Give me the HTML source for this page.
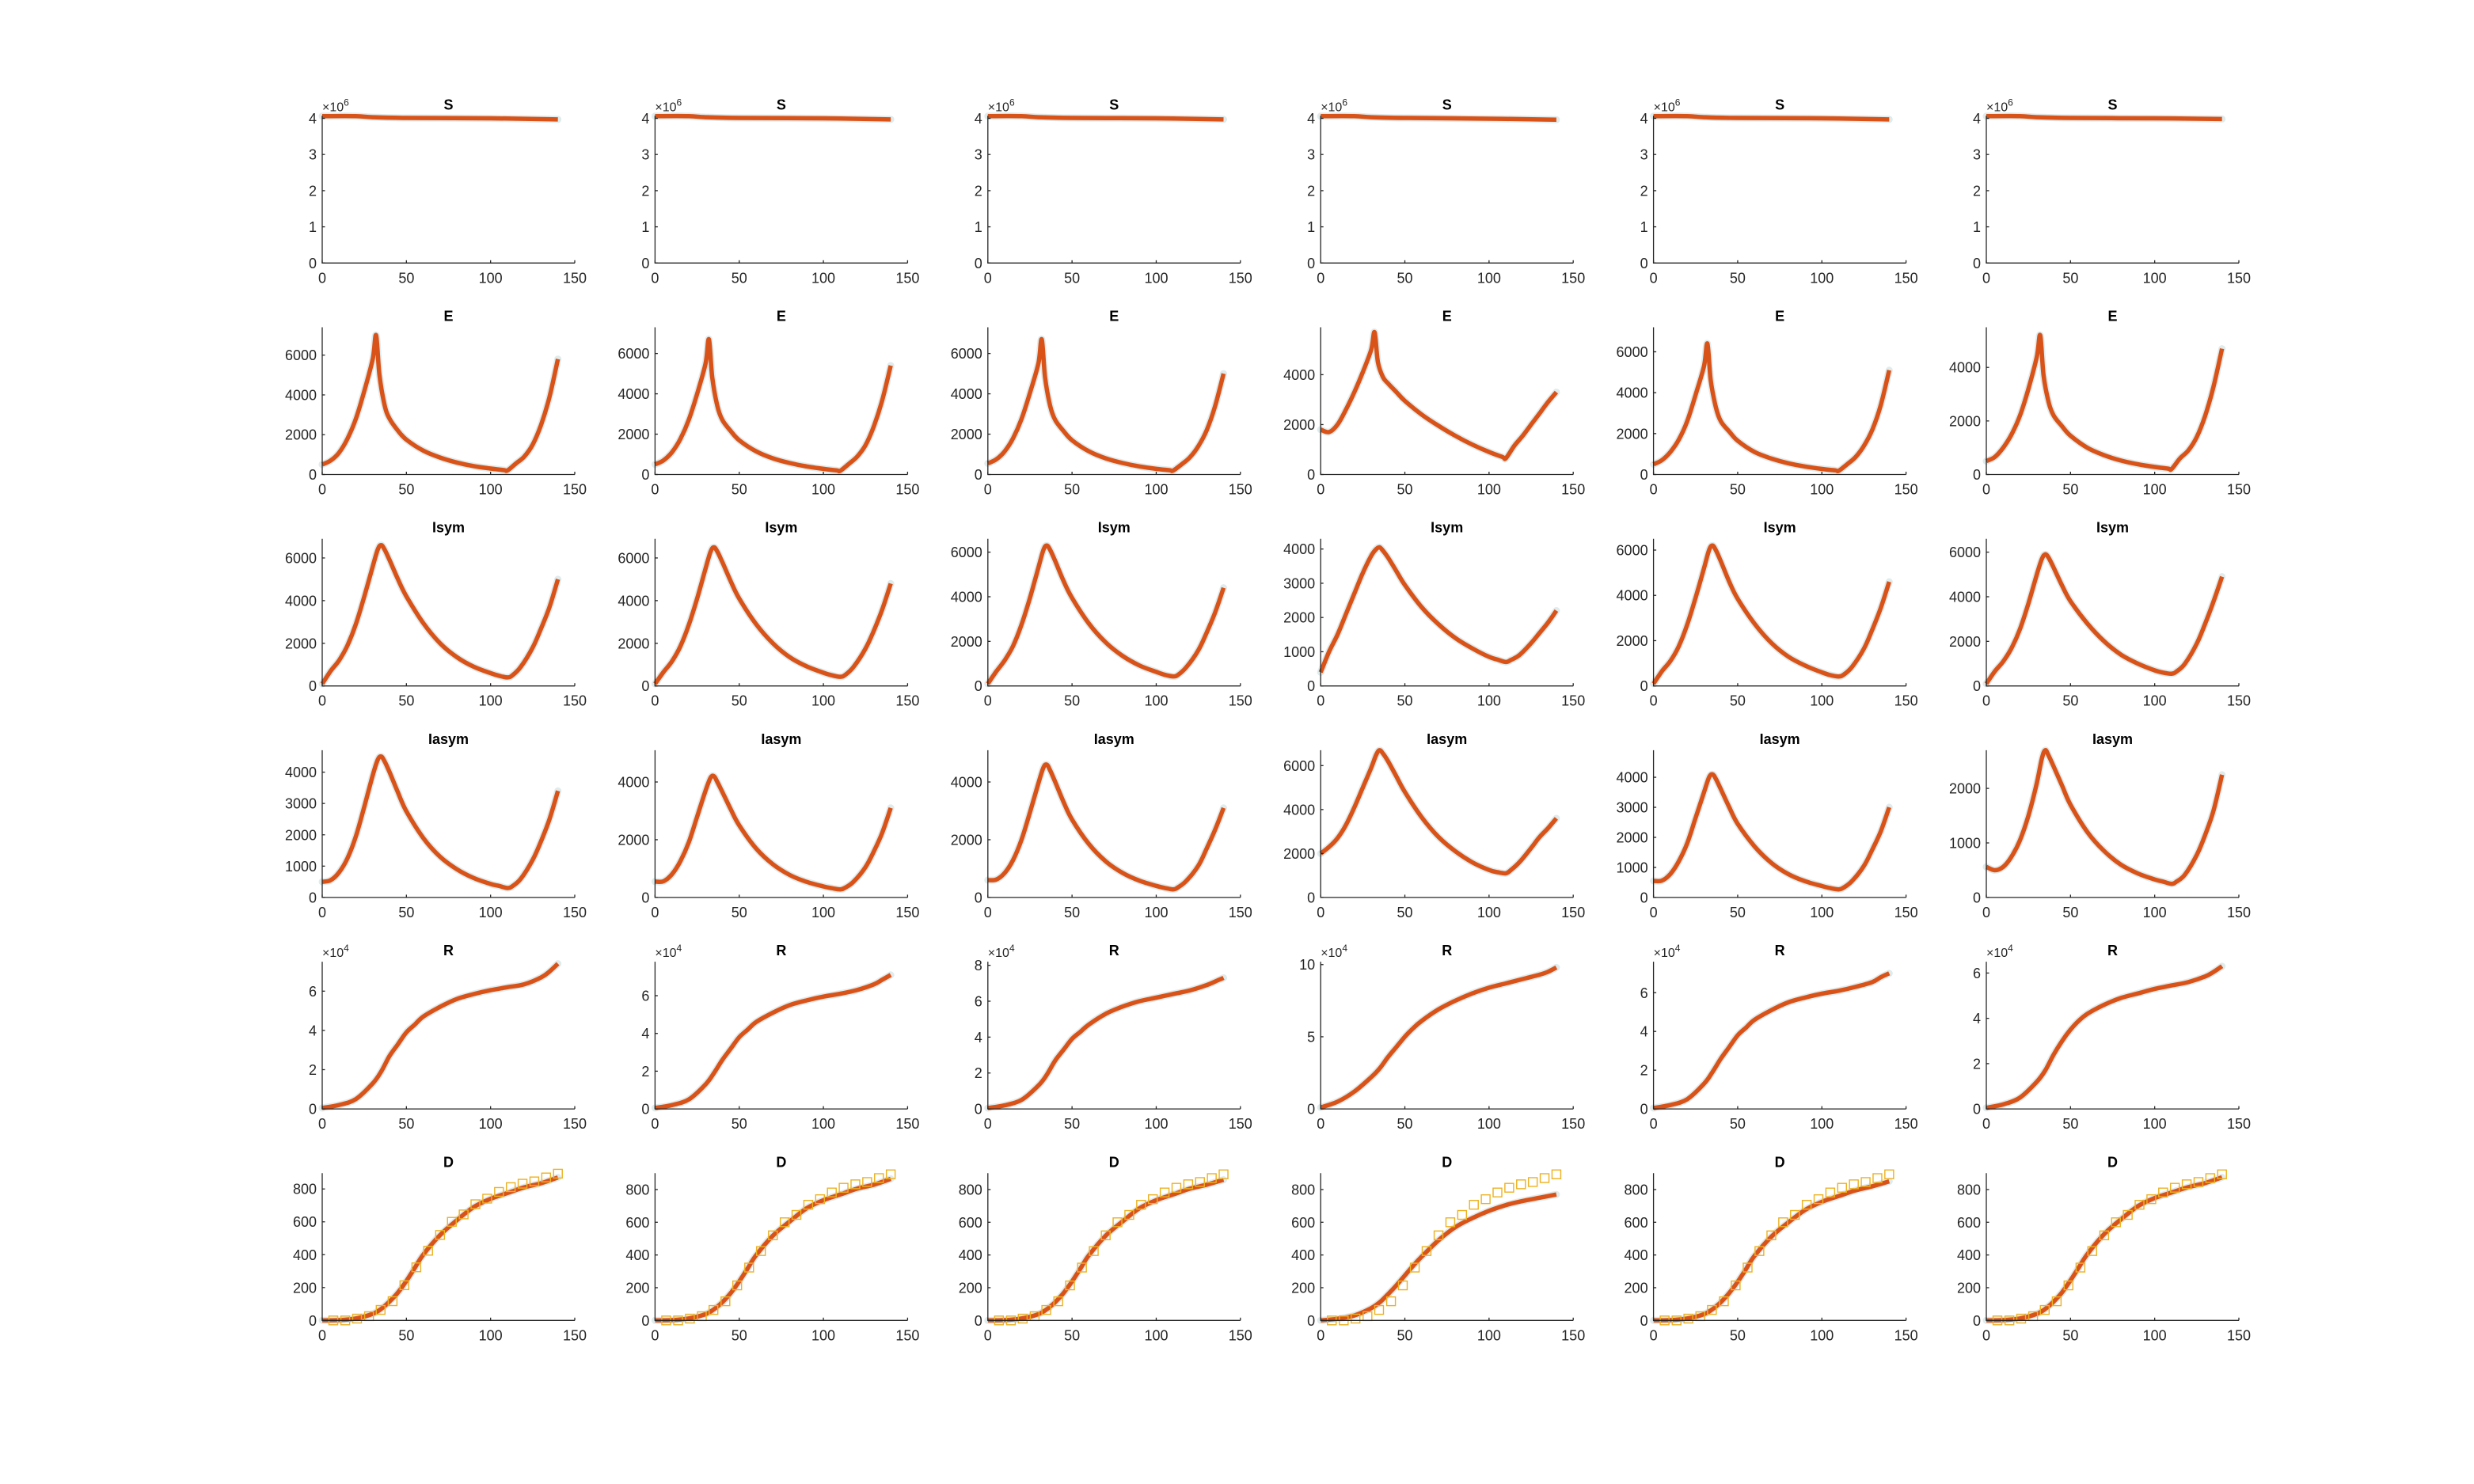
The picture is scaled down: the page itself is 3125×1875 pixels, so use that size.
<!DOCTYPE html>
<html><head><meta charset="utf-8">
<style>
html,body{margin:0;padding:0;background:#fff;}
svg{display:block;font-family:"Liberation Sans",sans-serif;}
</style></head>
<body>
<svg id="fig" width="3125" height="1875" viewBox="0 0 3125 1875" xmlns="http://www.w3.org/2000/svg"></svg>
<script>
// ---- data ----
const rowTitles = ["S","E","Isym","Iasym","R","D"];
const rowExponent = ["6","","","","4",""];
const tS = [0,20,30,50,100,140];
const tE = [0,5,10,15,20,25,30,32,34,37,40,45,50,60,70,80,90,100,108,110,115,120,125,130,135,140];
const tI = [0,5,10,15,20,25,30,33,35,37,40,45,50,60,70,80,90,100,105,110,113,118,125,130,135,140];
const tR = [0,10,20,30,35,40,45,50,55,60,70,80,90,100,110,120,130,135,140];
const tD = [0,10,20,30,35,40,45,50,55,60,70,80,90,100,110,120,130,140];
const tObs = [6.6,13.7,20.7,27.8,34.7,41.8,48.8,55.9,62.9,70,77,84,91,98,105,112,119,126,133,140];
const dObs = [0,0,11,26,64,117,214,323,424,520,600,645,707,741,782,811,832,846,870,893];

const S1=[4.06,4.06,4.03,4.01,4.0,3.97];
const S2=[4.06,4.06,4.03,4.01,4.0,3.97];
const S3=[4.06,4.06,4.03,4.01,4.0,3.97];
const S4=[4.06,4.06,4.03,4.01,3.99,3.96];
const S5=[4.06,4.06,4.03,4.01,4.0,3.97];
const S6=[4.06,4.06,4.03,4.01,4.0,3.98];

const E1=[500,700,1100,1800,2800,4200,5800,7000,5000,3500,2800,2200,1750,1200,850,600,420,300,220,200,550,900,1500,2500,3900,5800];
const E2=[500,700,1100,1750,2700,4000,5500,6700,4800,3400,2700,2150,1700,1150,800,570,400,280,200,180,520,880,1450,2400,3700,5400];
const E3=[550,750,1150,1800,2750,4050,5500,6700,4800,3400,2700,2150,1700,1150,800,570,400,280,210,190,500,850,1400,2200,3400,5000];
const E4=[1800,1700,2000,2600,3300,4100,5000,5700,4500,3900,3650,3300,2950,2400,1950,1550,1200,900,700,650,1150,1550,2000,2450,2900,3300];
const E5=[500,700,1100,1700,2600,3900,5300,6400,4600,3300,2600,2100,1650,1100,780,550,390,270,200,180,500,850,1400,2200,3400,5100];
const E6=[500,650,1000,1500,2200,3200,4400,5200,3700,2700,2200,1800,1450,1000,720,520,380,280,220,200,600,900,1400,2200,3300,4700];

const I1=[100,700,1200,1900,2900,4200,5600,6400,6600,6400,5900,5000,4200,2950,2000,1350,900,600,480,400,500,900,1800,2700,3700,5000];
const I2=[100,650,1150,1850,2850,4100,5500,6300,6500,6300,5800,4900,4100,2900,2000,1350,920,620,500,430,520,900,1750,2600,3600,4800];
const I3=[100,650,1150,1800,2750,3950,5300,6100,6300,6100,5600,4700,3950,2800,1950,1350,920,630,500,430,500,850,1600,2400,3300,4400];
const I4=[400,1000,1500,2100,2700,3300,3800,4000,4050,3950,3750,3350,2950,2300,1800,1400,1100,850,770,700,760,900,1250,1550,1850,2200];
const I5=[100,650,1100,1750,2700,3900,5200,6000,6200,6000,5500,4600,3850,2750,1900,1300,900,600,480,420,500,850,1650,2500,3450,4600];
const I6=[100,650,1100,1700,2550,3700,5000,5700,5900,5750,5300,4500,3800,2800,2000,1400,1000,700,600,550,650,1000,1900,2800,3800,4900];

const A1=[500,550,800,1250,1950,2900,3900,4400,4500,4350,4000,3350,2750,1900,1300,900,620,430,370,300,360,600,1200,1800,2500,3400];
const A2=[550,560,800,1250,1900,2800,3700,4150,4200,4000,3650,3050,2500,1700,1150,780,540,380,320,280,340,550,1050,1600,2250,3100];
const A3=[600,620,850,1300,2000,2950,3950,4500,4600,4400,4000,3300,2700,1850,1250,850,580,400,330,280,350,580,1100,1700,2350,3100];
const A4=[2000,2300,2700,3300,4100,5000,5900,6500,6700,6550,6200,5500,4800,3650,2750,2100,1600,1250,1150,1100,1250,1600,2250,2750,3150,3600];
const A5=[550,560,780,1200,1800,2650,3500,4000,4100,3950,3600,3000,2450,1700,1150,780,540,380,310,270,330,550,1050,1600,2200,3000];
const A6=[560,500,560,750,1050,1500,2100,2550,2700,2600,2400,2050,1700,1200,850,600,440,330,290,250,290,420,780,1150,1600,2250];

const R1=[0.05,0.2,0.5,1.3,1.9,2.7,3.3,3.9,4.3,4.7,5.2,5.6,5.85,6.05,6.2,6.35,6.7,7.0,7.4];
const R2=[0.05,0.2,0.5,1.3,1.9,2.6,3.2,3.8,4.2,4.6,5.1,5.5,5.75,5.95,6.1,6.3,6.6,6.85,7.1];
const R3=[0.05,0.2,0.5,1.3,1.9,2.7,3.3,3.9,4.3,4.7,5.3,5.7,6.0,6.2,6.4,6.6,6.9,7.1,7.3];
const R4=[0.1,0.5,1.2,2.2,2.8,3.6,4.3,5.0,5.6,6.1,6.9,7.5,8.0,8.4,8.7,9.0,9.3,9.5,9.8];
const R5=[0.05,0.2,0.5,1.3,1.9,2.6,3.2,3.8,4.2,4.6,5.1,5.5,5.75,5.95,6.1,6.3,6.55,6.8,7.0];
const R6=[0.05,0.2,0.5,1.2,1.7,2.4,3.0,3.5,3.9,4.2,4.6,4.9,5.1,5.3,5.45,5.6,5.85,6.05,6.3];

const D1=[0,2,12,40,70,115,170,240,320,400,520,610,690,740,775,810,835,870];
const D2=[0,2,12,38,68,112,168,238,318,398,518,605,685,735,770,805,830,865];
const D3=[0,2,12,38,68,112,168,238,318,398,518,605,685,735,770,805,830,860];
const D4=[0,10,30,75,110,160,215,275,335,390,490,570,625,670,705,730,750,770];
const D5=[0,2,12,38,68,112,168,236,315,395,512,598,675,725,760,795,820,850];
const D6=[0,2,12,40,70,115,172,245,325,405,528,618,698,748,782,815,840,875];

const ymaxS=[4.07,4.07,4.07,4.07,4.07,4.07];
const ymaxE=[7400,7300,7300,5900,7200,5500];
const ymaxI=[6900,6900,6600,4300,6500,6600];
const ymaxA=[4700,5100,5100,6700,4900,2700];
const ymaxR=[7.5,7.8,8.2,10.2,7.6,6.5];
const ymaxD=[896,900,900,900,900,900];

const stepS=[1,1,1,1,1,1];
const stepE=[2000,2000,2000,2000,2000,2000];
const stepI=[2000,2000,2000,1000,2000,2000];
const stepA=[1000,2000,2000,2000,1000,1000];
const stepR=[2,2,2,5,2,2];
const stepD=[200,200,200,200,200,200];

const xTicks=[0,50,100,150];

const rows=[
 {t:tS,series:[S1,S2,S3,S4,S5,S6],ymax:ymaxS,step:stepS},
 {t:tE,series:[E1,E2,E3,E4,E5,E6],ymax:ymaxE,step:stepE},
 {t:tI,series:[I1,I2,I3,I4,I5,I6],ymax:ymaxI,step:stepI},
 {t:tI,series:[A1,A2,A3,A4,A5,A6],ymax:ymaxA,step:stepA},
 {t:tR,series:[R1,R2,R3,R4,R5,R6],ymax:ymaxR,step:stepR},
 {t:tD,series:[D1,D2,D3,D4,D5,D6],ymax:ymaxD,step:stepD}
];

// ---- layout ----
const NS="http://www.w3.org/2000/svg";
const svg=document.getElementById('fig');
const X0=407, COLP=420.4, AW=319, YB0=332.3, ROWP=267.2, AH=186;
function mk(tag,attrs,parent){const e=document.createElementNS(NS,tag);for(const k in attrs)e.setAttribute(k,attrs[k]);(parent||svg).appendChild(e);return e;}
function smoothPath(pts){
  let d="M"+pts[0][0].toFixed(1)+","+pts[0][1].toFixed(1);
  for(let i=0;i<pts.length-1;i++){
    const p0=pts[Math.max(0,i-1)],p1=pts[i],p2=pts[i+1],p3=pts[Math.min(pts.length-1,i+2)];
    const c1=[p1[0]+(p2[0]-p0[0])/6,p1[1]+(p2[1]-p0[1])/6];
    const c2=[p2[0]-(p3[0]-p1[0])/6,p2[1]-(p3[1]-p1[1])/6];
    d+=" C"+c1[0].toFixed(1)+","+c1[1].toFixed(1)+" "+c2[0].toFixed(1)+","+c2[1].toFixed(1)+" "+p2[0].toFixed(1)+","+p2[1].toFixed(1);
  }
  return d;
}
rows.forEach((row,r)=>{
  for(let c=0;c<6;c++){
    const x0=X0+c*COLP, yb=YB0+r*ROWP, yt=yb-AH;
    const ymax=row.ymax[c], step=row.step[c];
    const xs=v=>x0+v/150*AW;
    const ys=v=>yb-v/ymax*AH;
    const g=mk('g',{});
    
    
    const ti=mk('text',{x:x0+AW*0.5,y:yt-8,'text-anchor':'middle','font-size':18,'font-weight':'bold',fill:'#000'},g);
    ti.textContent=rowTitles[r];
    
    
    if(rowExponent[r]){
      const ex=mk('text',{x:x0,y:yt-6,'font-size':16,fill:'#262626'},g);
      ex.innerHTML='×10<tspan dy="-7" font-size="12">'+rowExponent[r]+'</tspan>';
      
      
    }
    const pts=row.t.map((tv,i)=>[xs(tv),ys(row.series[c][i])]);
    const d=smoothPath(pts);
    const band=mk('path',{d:d,fill:'none',stroke:'#e0ebec','stroke-width':9,'stroke-linejoin':'round','stroke-linecap':'round'},g);
    
    
    const ln=mk('path',{d:d,fill:'none',stroke:'#D95319','stroke-width':5.5,'stroke-linejoin':'round'},g);
    
    
    if(r===5){
      tObs.forEach((tv,i)=>{
        const sq=mk('rect',{x:xs(tv)-5.5,y:ys(dObs[i])-5.5,width:11,height:11,fill:'none',stroke:'#EDB120','stroke-width':1.4},g);
        
        
      });
    }
    const ax=mk('path',{d:`M${x0},${yt} V${yb} H${x0+AW}`,fill:'none',stroke:'#262626','stroke-width':1.3},g);
    
    
    xTicks.forEach(v=>{
      const x=xs(v);
      mk('line',{x1:x,x2:x,y1:yb,y2:yb-3.5,stroke:'#262626','stroke-width':1.3},g);
      const tl=mk('text',{x:x,y:yb+25,'text-anchor':'middle','font-size':18,fill:'#262626'},g);
      tl.textContent=v;
      
      
    });
    for(let v=0; v<=ymax+1e-9; v+=step){
      const y=ys(v);
      mk('line',{x1:x0,x2:x0+3.5,y1:y,y2:y,stroke:'#262626','stroke-width':1.3},g);
      const tl=mk('text',{x:x0-7,y:y+6.5,'text-anchor':'end','font-size':18,fill:'#262626'},g);
      tl.textContent=Math.round(v*100)/100;
      
      
    }
  }
});
</script>
</body></html>
